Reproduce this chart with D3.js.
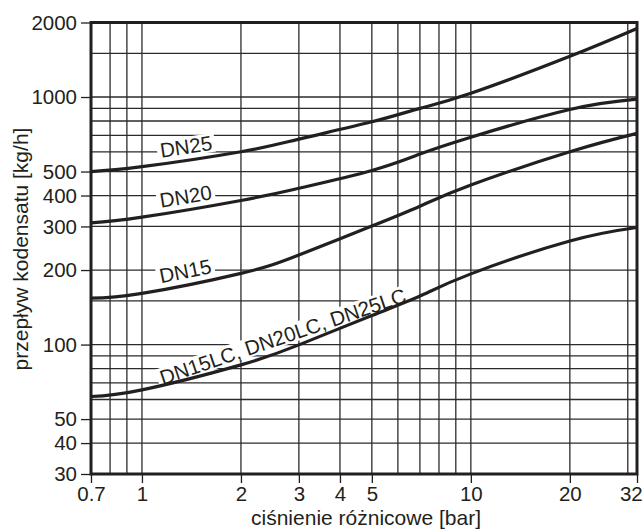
<!DOCTYPE html>
<html>
<head>
<meta charset="utf-8">
<script src="https://cdn.jsdelivr.net/npm/d3@7"></script>
<style>
  body { margin: 0; background: white; }
  text { font-family: "Liberation Sans", Arial, sans-serif; fill: #231f20; }
</style>
</head>
<body>
<div id="chart"></div>
<script>
// pressure difference [bar]
var pressure = [0.7, 1, 2, 3, 5, 7, 10, 20, 32];
// condensate flow [kg/h]
var dn25 = [500, 523, 601, 676, 794, 900, 1035, 1460, 1892];
var dn20 = [310, 327, 382, 428, 505, 588, 688, 890, 980];
var dn15 = [154, 161, 194, 230, 301, 362, 441, 601, 713];
var dnLC = [61.7, 65.6, 82.8, 99.7, 131, 157, 193, 262, 297];

var seriesNames = ["DN25", "DN20", "DN15", "DN15LC, DN20LC, DN25LC"];
var labelAt = [1.38, 1.38, 1.38, 2.76];

var xTicks = [0.7, 1, 2, 3, 4, 5, 10, 20, 32];
var yTicks = [30, 40, 50, 100, 200, 300, 400, 500, 1000, 2000];
var xGrid = [0.8, 0.9, 1, 2, 3, 4, 5, 6, 7, 8, 9, 10, 20, 30];
var yGrid = [40, 50, 60, 70, 80, 90, 100, 150, 200, 300, 400, 500, 600, 700, 800, 900, 1000, 1500];

var width = 644, height = 530;
var margin = { top: 22.5, right: 7, bottom: 56, left: 91 };

var svg = d3.select("#chart")
  .append("svg")
  .attr("width", width)
  .attr("height", height);

var x = d3.scaleLog().domain([0.7, 32]).range([margin.left, width - margin.right]);
var y = d3.scaleLog().domain([30, 2000]).range([height - margin.bottom, margin.top]);

// Grid lines
svg.append("g")
  .selectAll("line")
  .data(xGrid)
  .enter()
  .append("line")
  .attr("x1", function(d) { return x(d); })
  .attr("x2", function(d) { return x(d); })
  .attr("y1", y(30))
  .attr("y2", y(2000))
  .style("stroke", "#2b2b2b")
  .style("stroke-width", "1.3px");

svg.append("g")
  .selectAll("line")
  .data(yGrid)
  .enter()
  .append("line")
  .attr("x1", x(0.7))
  .attr("x2", x(32))
  .attr("y1", function(d) { return y(d); })
  .attr("y2", function(d) { return y(d); })
  .style("stroke", "#2b2b2b")
  .style("stroke-width", "1.3px");

// Axes
var xAxis = svg.append("g")
  .attr("transform", "translate(0," + y(30) + ")")
  .call(d3.axisBottom(x).tickValues(xTicks).tickSize(9).tickPadding(3)
    .tickFormat(function(d) { return String(d); }));

var yAxis = svg.append("g")
  .attr("transform", "translate(" + x(0.7) + ",0)")
  .call(d3.axisLeft(y).tickValues(yTicks).tickSize(10).tickPadding(4)
    .tickFormat(function(d) { return String(d); }));

[xAxis, yAxis].forEach(function(a) {
  a.select(".domain").remove();
  a.selectAll("line").style("stroke", "#231f20").style("stroke-width", "1.3px");
  a.selectAll("text").attr("font-size", 20.5).style("fill", "#231f20")
    .attr("font-family", "Liberation Sans, Arial, sans-serif");
});

// keep the last x label inside the picture
xAxis.selectAll("text")
  .attr("dx", function(d) { return d === 32 ? "-0.3em" : 0; });

var series = [dn25, dn20, dn15, dnLC];

// flow on a curve at any pressure (log-log interpolation)
function flowAt(vals, p) {
  var i = d3.bisectRight(pressure, p) - 1;
  i = Math.max(0, Math.min(pressure.length - 2, i));
  var t = (Math.log(p) - Math.log(pressure[i])) / (Math.log(pressure[i + 1]) - Math.log(pressure[i]));
  return Math.exp(Math.log(vals[i]) + t * (Math.log(vals[i + 1]) - Math.log(vals[i])));
}

// Curve labels with white background
var labels = svg.append("g");
series.forEach(function(vals, k) {
  var p = labelAt[k];
  var px = x(p), py = y(flowAt(vals, p));
  var g = labels.append("g");
  var txt = g.append("text")
    .attr("x", 0)
    .attr("y", -6)
    .attr("text-anchor", "middle")
    .attr("font-size", 20.5)
    .text(seriesNames[k]);
  var hw = txt.node().getBBox().width / 2;
  var pa = x.invert(px - hw), pb = x.invert(px + hw);
  var ang = Math.atan2(y(flowAt(vals, pb)) - y(flowAt(vals, pa)), 2 * hw) * 180 / Math.PI;
  g.attr("transform", "translate(" + px + "," + py + ") rotate(" + ang + ")");
  var bb = txt.node().getBBox();
  g.insert("rect", "text")
    .attr("x", bb.x - 3)
    .attr("y", bb.y + 2)
    .attr("width", bb.width + 6)
    .attr("height", bb.height - 4)
    .style("fill", "white");
});

// Curves
var line = d3.line()
  .x(function(d) { return x(d[0]); })
  .y(function(d) { return y(d[1]); })
  .curve(d3.curveNatural);

svg.append("g")
  .selectAll("path")
  .data(series)
  .enter()
  .append("path")
  .attr("d", function(vals) { return line(pressure.map(function(p, i) { return [p, vals[i]]; })); })
  .style("fill", "none")
  .style("stroke", "#231f20")
  .style("stroke-width", "3.2px");

// Frame
svg.append("rect")
  .attr("x", x(0.7))
  .attr("y", y(2000))
  .attr("width", x(32) - x(0.7))
  .attr("height", y(30) - y(2000))
  .style("fill", "none")
  .style("stroke", "#231f20")
  .style("stroke-width", "3px");

// Axis titles
svg.append("text")
  .attr("x", (x(0.7) + x(32)) / 2 + 2)
  .attr("y", 525)
  .attr("text-anchor", "middle")
  .attr("font-size", 21)
  .text("ciśnienie różnicowe [bar]");

svg.append("text")
  .attr("transform", "translate(27.5,249) rotate(-90)")
  .attr("text-anchor", "middle")
  .attr("font-size", 21)
  .text("przepływ kodensatu [kg/h]");
</script>
</body>
</html>
